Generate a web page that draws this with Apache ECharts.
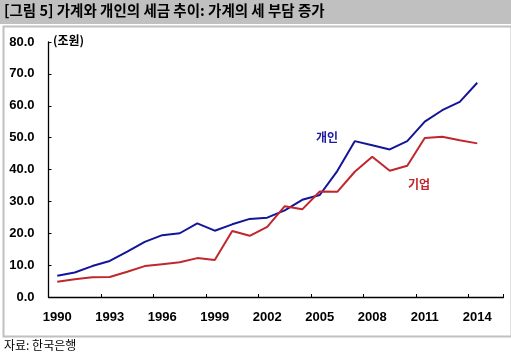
<!DOCTYPE html>
<html>
<head>
<meta charset="utf-8">
<script src="https://cdn.jsdelivr.net/npm/echarts@6/dist/echarts.min.js"></script>
<style>
html,body{margin:0;padding:0;background:#fff;}
#chart{width:511px;height:355px;}
</style>
</head>
<body>
<div id="chart"></div>
<script>
var years = ['1990','1991','1992','1993','1994','1995','1996','1997','1998','1999','2000','2001','2002','2003','2004','2005','2006','2007','2008','2009','2010','2011','2012','2013','2014','2015'];
var personal = [6.7, 7.7, 9.7, 11.3, 14.2, 17.3, 19.4, 20.0, 23.1, 20.8, 22.8, 24.5, 24.9, 27.2, 30.5, 32.0, 39.5, 48.9, 47.6, 46.3, 48.9, 55.0, 58.6, 61.2, 67.2];
var corporate = [4.8, 5.6, 6.2, 6.3, 7.9, 9.7, 10.3, 10.9, 12.2, 11.6, 20.7, 19.2, 22.0, 28.5, 27.5, 33.1, 33.0, 39.3, 44.0, 39.6, 41.2, 49.9, 50.3, 49.2, 48.2];
var seriesNames = ['개인', '기업'];
var titleText = '[그림 5] 가계와 개인의 세금 추이: 가계의 세 부담 증가';
var unitText = '(조원)';
var sourceText = '자료: 한국은행';

var chart = echarts.init(document.getElementById('chart'), null, {renderer: 'canvas'});
var numFont = '"Liberation Sans", Arial, sans-serif';
var krFont = '"Noto Sans CJK KR", sans-serif';
chart.setOption({
  animation: false,
  backgroundColor: '#ffffff',
  grid: {left: 48.5, right: 7.5, top: 42, bottom: 58, containLabel: false},
  xAxis: {
    type: 'category',
    data: years,
    boundaryGap: true,
    axisLine: {lineStyle: {color: '#000', width: 1.3}},
    axisTick: {show: true, inside: true, length: 3, interval: 2, lineStyle: {color: '#000'}},
    axisLabel: {interval: 2, color: '#000', fontFamily: numFont, fontWeight: 'bold', fontSize: 13, margin: 14},
    splitLine: {show: false}
  },
  yAxis: {
    type: 'value',
    min: 0, max: 80, interval: 10,
    axisLine: {show: true, lineStyle: {color: '#000', width: 1.3}},
    axisTick: {show: true, inside: true, length: 3, lineStyle: {color: '#000'}},
    axisLabel: {color: '#000', fontFamily: numFont, fontWeight: 'bold', fontSize: 13, margin: 14,
      formatter: function (v) { return v.toFixed(1); }},
    splitLine: {show: false}
  },
  graphic: [
    {type: 'rect', left: 0, top: 0, shape: {width: 511, height: 24}, style: {fill: '#c0c0c0'}, z: -1},
    {type: 'rect', left: 1, top: 24, shape: {width: 508, height: 310}, style: {fill: 'none', stroke: '#c0c0c0', lineWidth: 2}, z: -1},
    {type: 'text', left: 4, top: 3, style: {text: titleText, font: 'bold 14.5px ' + krFont, fill: '#000'}},
    {type: 'text', left: 53, top: 34, style: {text: unitText, font: 'bold 12px ' + krFont, fill: '#000'}},
    {type: 'text', left: 4, top: 339, style: {text: sourceText, font: '12px ' + krFont, fill: '#000'}},
    {type: 'text', left: 316, top: 131, style: {text: seriesNames[0], font: 'bold 12px ' + krFont, fill: '#1c1ca0'}},
    {type: 'text', left: 408, top: 178, style: {text: seriesNames[1], font: 'bold 12px ' + krFont, fill: '#c0272d'}}
  ],
  series: [
    {name: seriesNames[0], type: 'line', data: personal, symbol: 'none', smooth: false,
      lineStyle: {color: '#14149a', width: 2}},
    {name: seriesNames[1], type: 'line', data: corporate, symbol: 'none', smooth: false,
      lineStyle: {color: '#c0272d', width: 2}}
  ]
});
</script>
</body>
</html>
